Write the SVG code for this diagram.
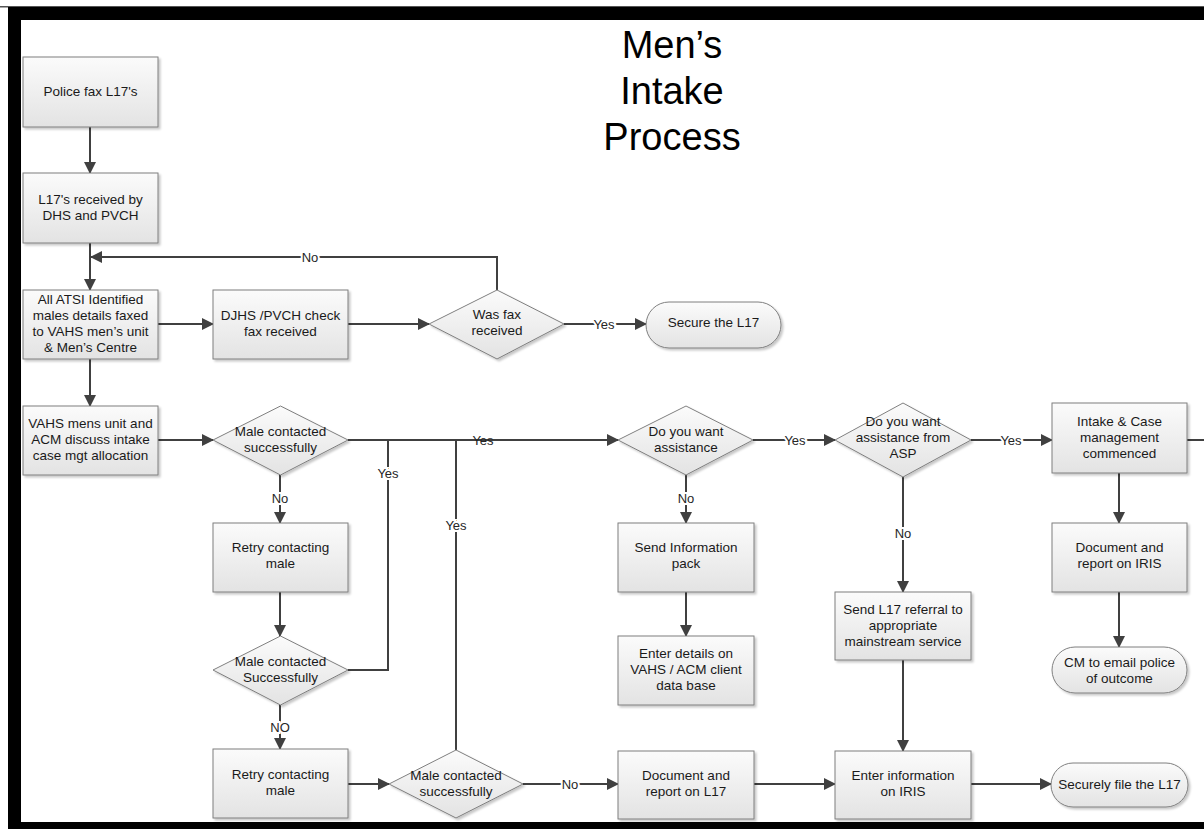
<svg xmlns="http://www.w3.org/2000/svg" width="1204" height="829" viewBox="0 0 1204 829">
<defs>
<linearGradient id="g" x1="0" y1="0" x2="0" y2="1"><stop offset="0" stop-color="#fbfbfb"/><stop offset="1" stop-color="#e3e3e3"/></linearGradient>
<filter id="sh" x="-10%" y="-10%" width="130%" height="130%"><feDropShadow dx="2" dy="2" stdDeviation="1" flood-color="#000" flood-opacity="0.22"/></filter>
<marker id="ar" viewBox="0 0 12 12" refX="11" refY="6" markerWidth="12" markerHeight="12" markerUnits="userSpaceOnUse" orient="auto"><path d="M0,0 L12,6 L0,12 z" fill="#404040"/></marker>
</defs>
<style>
.n{fill:url(#g);stroke:#7f7f7f;stroke-width:1;filter:url(#sh)}
.t{font-family:"Liberation Sans",Arial,sans-serif;font-size:13.5px;fill:#1a1a1a;text-anchor:middle}
.c{fill:none;stroke:#404040;stroke-width:2}
.a{marker-end:url(#ar)}
.l{font-family:"Liberation Sans",Arial,sans-serif;font-size:13px;fill:#262626;text-anchor:middle;dominant-baseline:central}
.h{stroke:#fff;stroke-width:4;paint-order:stroke}
.ti{font-family:"Liberation Sans",Arial,sans-serif;font-size:38px;fill:#000;text-anchor:middle}
</style>
<rect width="1204" height="829" fill="#fff"/>
<rect x="0" y="6" width="1204" height="1.5" fill="#555"/>
<rect x="8" y="7" width="1196" height="13" fill="#000"/>
<rect x="8" y="7" width="13" height="822" fill="#000"/>
<rect x="8" y="822" width="1196" height="7" fill="#000"/>
<g id="title"><text class="ti" x="672" y="58">Men’s</text><text class="ti" x="672" y="104">Intake</text><text class="ti" x="672" y="150">Process</text></g>
<g id="connectors">
<path class="c a" d="M90,127 V173"/>
<path class="c a" d="M90,243 V290"/>
<path class="c a" d="M497,290 V257 H91"/>
<path class="c a" d="M158,324 H213"/>
<path class="c a" d="M348,324 H429"/>
<path class="c a" d="M564,324 H646"/>
<path class="c a" d="M90,359 V406"/>
<path class="c a" d="M158,440 H213"/>
<path class="c a" d="M348,440 H618"/>
<path class="c" d="M348,670 H388 V440"/>
<path class="c" d="M456,750 V440"/>
<path class="c a" d="M280,475 V523"/>
<path class="c a" d="M280,592 V636"/>
<path class="c a" d="M280,705 V749"/>
<path class="c a" d="M348,784 H389"/>
<path class="c a" d="M523,784 H618"/>
<path class="c a" d="M754,784 H835"/>
<path class="c a" d="M971,784 H1051"/>
<path class="c a" d="M686,475 V523"/>
<path class="c a" d="M686,592 V636"/>
<path class="c a" d="M753,440 H835"/>
<path class="c a" d="M971,440 H1052"/>
<path class="c" d="M1187,440 H1204"/>
<path class="c a" d="M903,477 V592"/>
<path class="c a" d="M903,660 V751"/>
<path class="c a" d="M1119,473 V523"/>
<path class="c a" d="M1119,592 V647"/>
<text class="l h" x="310" y="257">No</text>
<text class="l h" x="604" y="324">Yes</text>
<text class="l" x="483" y="440">Yes</text>
<text class="l h" x="388" y="473">Yes</text>
<text class="l h" x="456" y="525">Yes</text>
<text class="l h" x="280" y="498">No</text>
<text class="l h" x="280" y="727">NO</text>
<text class="l h" x="570" y="784">No</text>
<text class="l h" x="686" y="498">No</text>
<text class="l h" x="795" y="440">Yes</text>
<text class="l h" x="1011" y="440">Yes</text>
<text class="l h" x="903" y="533">No</text>
</g>
<g id="police-fax"><rect class="n" x="23" y="57" width="135" height="70"/><text class="t" x="90.5" y="96">Police fax L17's</text></g>
<g id="received"><rect class="n" x="23" y="173" width="135" height="70"/><text class="t" x="90.5" y="204">L17's received by</text><text class="t" x="90.5" y="220">DHS and PVCH</text></g>
<g id="atsi"><rect class="n" x="23" y="290" width="135" height="69"/><text class="t" x="90.5" y="304">All ATSI Identified</text><text class="t" x="90.5" y="320">males details faxed</text><text class="t" x="90.5" y="336">to VAHS men’s unit</text><text class="t" x="90.5" y="352">&amp; Men’s Centre</text></g>
<g id="djhs-check"><rect class="n" x="213" y="290" width="135" height="69"/><text class="t" x="280.5" y="320">DJHS /PVCH check</text><text class="t" x="280.5" y="336">fax received</text></g>
<g id="was-fax"><polygon class="n" points="497,290 564,324 497,359 429,324"/><text class="t" x="497" y="319">Was fax</text><text class="t" x="497" y="335">received</text></g>
<g id="secure"><rect class="n" x="646" y="302" width="135" height="46" rx="23"/><text class="t" x="713.5" y="327">Secure the L17</text></g>
<g id="vahs-acm"><rect class="n" x="23" y="406" width="135" height="69"/><text class="t" x="90.5" y="428">VAHS mens unit and</text><text class="t" x="90.5" y="444">ACM discuss intake</text><text class="t" x="90.5" y="460">case mgt allocation</text></g>
<g id="male-contacted-1"><polygon class="n" points="280.5,406 348,440 280.5,475 213,440"/><text class="t" x="280.5" y="436">Male  contacted</text><text class="t" x="280.5" y="452">successfully</text></g>
<g id="retry-1"><rect class="n" x="213" y="523" width="135" height="69"/><text class="t" x="280.5" y="552">Retry contacting</text><text class="t" x="280.5" y="568">male</text></g>
<g id="male-contacted-2"><polygon class="n" points="280.5,636 348,670 280.5,705 213,670"/><text class="t" x="280.5" y="666">Male contacted</text><text class="t" x="280.5" y="682">Successfully</text></g>
<g id="retry-2"><rect class="n" x="213" y="749" width="135" height="69"/><text class="t" x="280.5" y="779">Retry contacting</text><text class="t" x="280.5" y="795">male</text></g>
<g id="male-contacted-3"><polygon class="n" points="456,750 523,784 456,818 389,784"/><text class="t" x="456" y="780">Male contacted</text><text class="t" x="456" y="796">successfully</text></g>
<g id="doc-l17"><rect class="n" x="618" y="751" width="136" height="68"/><text class="t" x="686" y="780">Document and</text><text class="t" x="686" y="796">report on L17</text></g>
<g id="want-assistance"><polygon class="n" points="686,406 753,440 686,475 618,440"/><text class="t" x="686" y="436">Do you want</text><text class="t" x="686" y="452">assistance</text></g>
<g id="info-pack"><rect class="n" x="618" y="523" width="136" height="69"/><text class="t" x="686" y="552">Send Information</text><text class="t" x="686" y="568">pack</text></g>
<g id="enter-details"><rect class="n" x="618" y="636" width="136" height="69"/><text class="t" x="686" y="658">Enter details on</text><text class="t" x="686" y="674">VAHS / ACM client</text><text class="t" x="686" y="690">data base</text></g>
<g id="assistance-asp"><polygon class="n" points="903,403 971,440 903,477 835,440"/><text class="t" x="903" y="426">Do you want</text><text class="t" x="903" y="442">assistance from</text><text class="t" x="903" y="458">ASP</text></g>
<g id="intake-case"><rect class="n" x="1052" y="403" width="135" height="70"/><text class="t" x="1119.5" y="426">Intake &amp; Case</text><text class="t" x="1119.5" y="442">management</text><text class="t" x="1119.5" y="458">commenced</text></g>
<g id="doc-iris"><rect class="n" x="1052" y="523" width="135" height="69"/><text class="t" x="1119.5" y="552">Document and</text><text class="t" x="1119.5" y="568">report on IRIS</text></g>
<g id="cm-email"><rect class="n" x="1052" y="647" width="135" height="46" rx="23"/><text class="t" x="1119.5" y="667">CM to email police</text><text class="t" x="1119.5" y="683">of outcome</text></g>
<g id="send-referral"><rect class="n" x="835" y="592" width="136" height="68"/><text class="t" x="903" y="614">Send L17 referral to</text><text class="t" x="903" y="630">appropriate</text><text class="t" x="903" y="646">mainstream service</text></g>
<g id="enter-iris"><rect class="n" x="835" y="751" width="136" height="68"/><text class="t" x="903" y="780">Enter information</text><text class="t" x="903" y="796">on IRIS</text></g>
<g id="securely-file"><rect class="n" x="1051" y="763" width="137" height="44" rx="22"/><text class="t" x="1119.5" y="789">Securely file the L17</text></g>
</svg>
